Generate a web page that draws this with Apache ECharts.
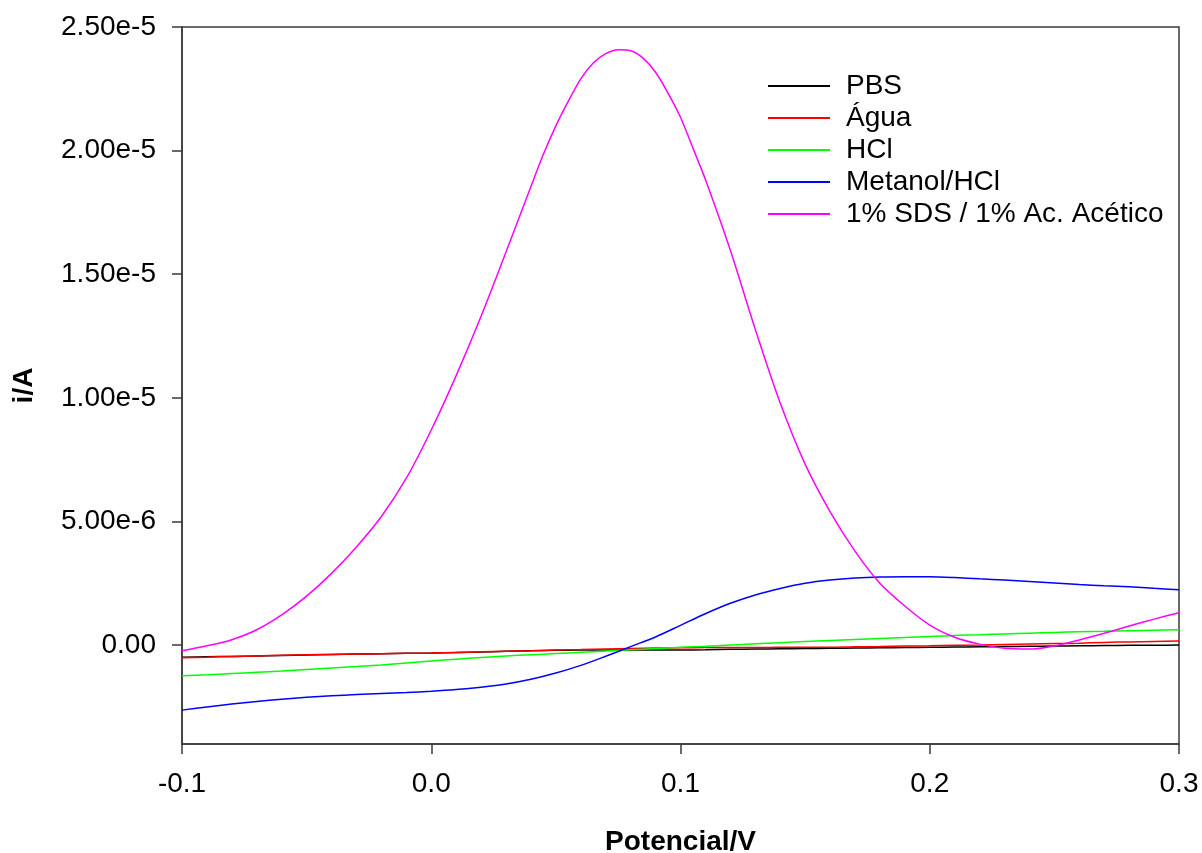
<!DOCTYPE html>
<html>
<head>
<meta charset="utf-8">
<title>Voltametria - i/A vs Potencial/V</title>
<script src="https://cdn.jsdelivr.net/npm/echarts@6/dist/echarts.min.js"></script>
<style>
  html, body { margin: 0; padding: 0; background: #ffffff; }
  #chart { width: 1202px; height: 853px; }
</style>
</head>
<body>
<div id="chart"></div>
<script>
// Potential (V), sampled every 0.01 V from -0.1 to 0.3
const potencial = [
  -0.10, -0.09, -0.08, -0.07, -0.06, -0.05, -0.04, -0.03, -0.02, -0.01,
   0.00,  0.01,  0.02,  0.03,  0.04,  0.05,  0.06,  0.07,  0.08,  0.09,
   0.10,  0.11,  0.12,  0.13,  0.14,  0.15,  0.16,  0.17,  0.18,  0.19,
   0.20,  0.21,  0.22,  0.23,  0.24,  0.25,  0.26,  0.27,  0.28,  0.29,
   0.30
];

// Finer potential grid for the SDS curve around its peak
const potencialSds = [
  -0.10, -0.09, -0.08, -0.07, -0.06, -0.05, -0.04, -0.03, -0.02, -0.01,
   0.00,  0.01,  0.02,  0.03,  0.04,  0.045, 0.05,  0.055, 0.06,  0.065,
   0.07,  0.075, 0.08,  0.085, 0.09,  0.095, 0.10,  0.105, 0.11,  0.12,
   0.13,  0.14,  0.15,  0.16,  0.17,  0.18,  0.19,  0.20,  0.21,  0.22,
   0.23,  0.24,  0.25,  0.26,  0.27,  0.28,  0.29,  0.30
];

// Current in units of 1e-6 A
const pbs = [
  -0.49, -0.47, -0.46, -0.44, -0.42, -0.40, -0.38, -0.36, -0.35, -0.33,
  -0.32, -0.30, -0.28, -0.25, -0.23, -0.21, -0.20, -0.20, -0.20, -0.20,
  -0.20, -0.19, -0.17, -0.16, -0.15, -0.14, -0.13, -0.12, -0.11, -0.10,
  -0.09, -0.08, -0.07, -0.06, -0.05, -0.04, -0.03, -0.02, -0.01, -0.01,
   0.00
];
const agua = [
  -0.51, -0.49, -0.46, -0.44, -0.41, -0.39, -0.38, -0.36, -0.35, -0.33,
  -0.32, -0.30, -0.27, -0.25, -0.23, -0.20, -0.18, -0.16, -0.14, -0.12,
  -0.11, -0.10, -0.10, -0.10, -0.09, -0.09, -0.09, -0.07, -0.06, -0.04,
  -0.03, -0.01,  0.00,  0.02,  0.04,  0.06,  0.08,  0.11,  0.13,  0.15,
   0.17
];
const hcl = [
  -1.24, -1.20, -1.15, -1.10, -1.05, -0.99, -0.93, -0.87, -0.80, -0.72,
  -0.64, -0.57, -0.50, -0.44, -0.39, -0.34, -0.29, -0.24, -0.19, -0.14,
  -0.09, -0.05,  0.00,  0.05,  0.10,  0.15,  0.19,  0.23,  0.27,  0.31,
   0.35,  0.39,  0.42,  0.45,  0.48,  0.51,  0.54,  0.56,  0.58,  0.60,
   0.62
];
const metanolHcl = [
  -2.63, -2.50, -2.38, -2.28, -2.19, -2.11, -2.05, -2.00, -1.96, -1.92,
  -1.87, -1.80, -1.70, -1.57, -1.38, -1.13, -0.82, -0.45, -0.06,  0.33,
   0.80,  1.27,  1.69,  2.03,  2.29,  2.50,  2.63,  2.71,  2.75,  2.76,
   2.76,  2.73,  2.68,  2.63,  2.57,  2.51,  2.45,  2.40,  2.36,  2.30,
   2.24
];
const sdsAcetico = [
  -0.23, -0.03,  0.22,  0.62,  1.22,  1.98,  2.90,  3.97,  5.20,  6.75,
   8.70, 10.90, 13.30, 15.90, 18.55, 19.85, 21.00, 22.00, 22.90, 23.54,
  23.92, 24.08, 24.04, 23.74, 23.17, 22.33, 21.35, 20.10, 18.83, 15.97,
  12.77,  9.79,  7.32,  5.40,  3.80,  2.50,  1.58,  0.81,  0.32,  0.04,
  -0.13, -0.16, -0.03,  0.21,  0.48,  0.77,  1.05,  1.31
];

const seriesNames = ['PBS', 'Água', 'HCl', 'Metanol/HCl', '1% SDS / 1% Ac. Acético'];
const seriesX = [potencial, potencial, potencial, potencial, potencialSds];
const seriesY = [pbs, agua, hcl, metanolHcl, sdsAcetico];
const seriesColors = ['#000000', '#ff0000', '#00ff00', '#0000ff', '#ff00ff'];

// Tick positions (1e-6 A) and potential ticks (V)
const yTicks = [0, 5, 10, 15, 20, 25];
const xTicks = [-0.1, 0.0, 0.1, 0.2, 0.3];

const FONT = '"Liberation Sans", Arial, Helvetica, sans-serif';
const AXIS_COLOR = '#3a3a3a';

function yLabel(v) {
  if (Math.abs(v) < 1e-9) return '0.00';
  return (v * 1e-6).toExponential(2);
}

const chart = echarts.init(document.getElementById('chart'), null, { renderer: 'canvas' });

chart.setOption({
  animation: false,
  backgroundColor: '#ffffff',
  grid: {
    left: 182, right: 23, top: 27, bottom: 109,
    show: true, borderColor: AXIS_COLOR, borderWidth: 1.5,
    containLabel: false,
    outerBoundsMode: 'none'
  },
  legend: {
    orient: 'vertical',
    left: 768, top: 71,
    padding: 0,
    icon: 'rect',
    itemWidth: 62, itemHeight: 2,
    itemGap: 2,
    data: seriesNames,
    textStyle: {
      fontFamily: FONT, fontSize: 28, color: '#000',
      lineHeight: 30, padding: [0, 0, 0, 11]
    }
  },
  xAxis: {
    type: 'value',
    min: -0.1, max: 0.3, interval: 0.1,
    name: 'Potencial/V',
    nameLocation: 'middle',
    nameGap: 84,
    nameTextStyle: { fontFamily: FONT, fontSize: 28, fontWeight: 'bold', color: '#000' },
    axisLine: { show: true, onZero: false, lineStyle: { color: AXIS_COLOR, width: 1.5 } },
    axisTick: { show: true, length: 10, lineStyle: { color: AXIS_COLOR, width: 1.5 },
                customValues: xTicks },
    axisLabel: {
      fontFamily: FONT, fontSize: 28, color: '#000', margin: 26,
      customValues: xTicks,
      formatter: v => v.toFixed(1)
    },
    splitLine: { show: false }
  },
  yAxis: {
    type: 'value',
    min: -4, max: 25,
    name: 'i/A',
    nameLocation: 'middle',
    nameGap: 144,
    nameRotate: 90,
    nameTextStyle: { fontFamily: FONT, fontSize: 28, fontWeight: 'bold', color: '#000' },
    axisLine: { show: true, onZero: false, lineStyle: { color: AXIS_COLOR, width: 1.5 } },
    axisTick: { show: true, length: 10, lineStyle: { color: AXIS_COLOR, width: 1.5 },
                customValues: yTicks },
    axisLabel: {
      fontFamily: FONT, fontSize: 28, color: '#000', margin: 26,
      customValues: yTicks,
      formatter: yLabel
    },
    splitLine: { show: false }
  },
  series: seriesNames.map((name, i) => ({
    name: name,
    type: 'line',
    data: seriesX[i].map((x, k) => [x, seriesY[i][k]]),
    smooth: 0.3,
    symbol: 'none',
    showSymbol: false,
    clip: true,
    z: 2 + i,
    lineStyle: { color: seriesColors[i], width: 1.5 },
    itemStyle: { color: seriesColors[i] }
  }))
});
</script>
</body>
</html>
